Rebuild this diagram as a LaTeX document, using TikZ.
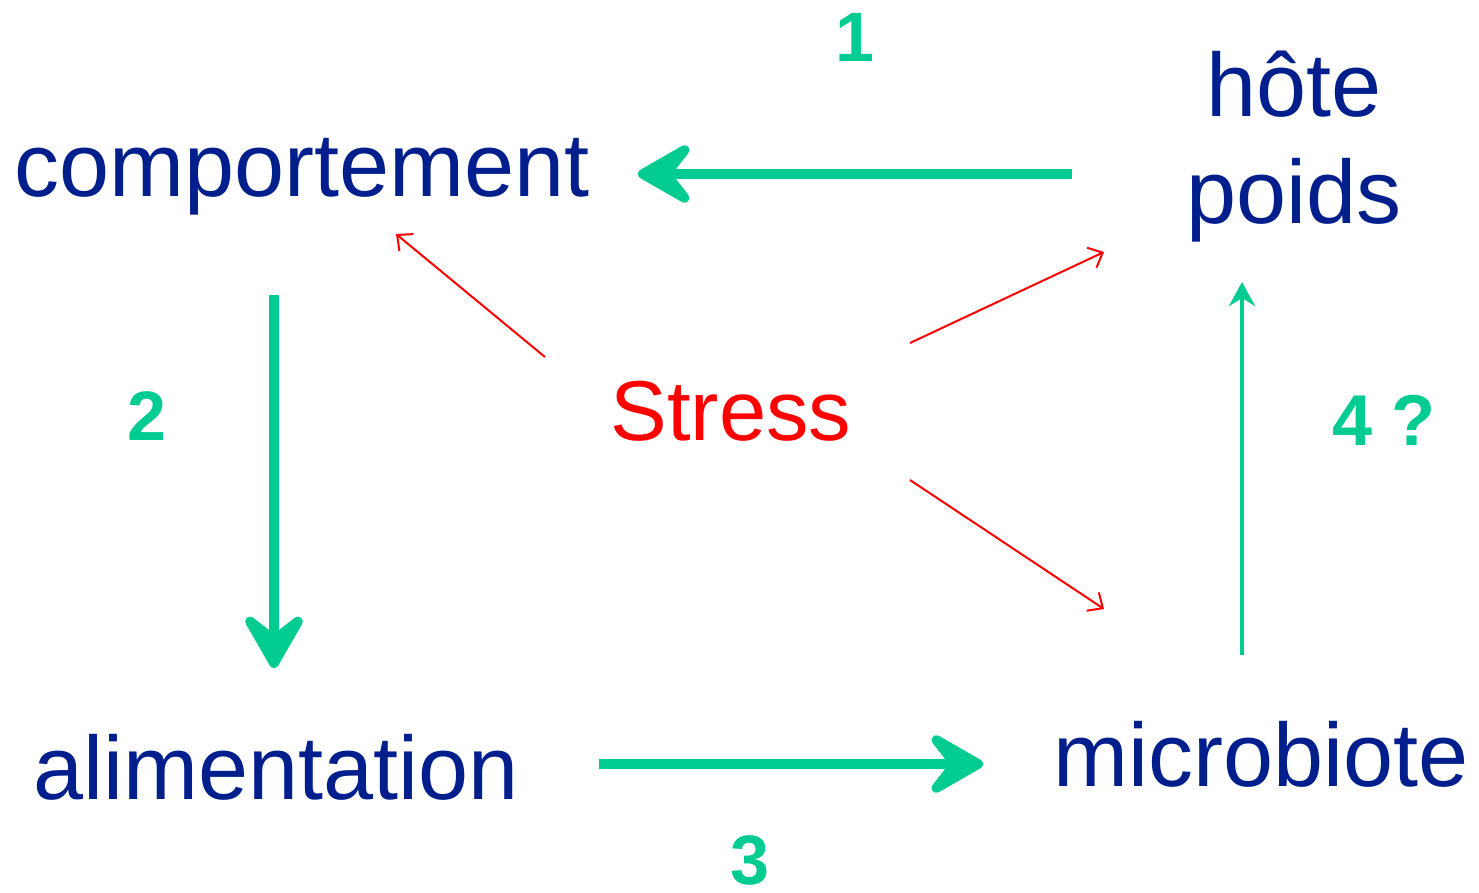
\documentclass[tikz,border=0pt]{standalone}
\usepackage{fontspec}
\setmainfont{Liberation Sans}
\usetikzlibrary{arrows.meta}
\definecolor{gr}{RGB}{0,204,146}
\definecolor{bl}{RGB}{0,30,140}
\definecolor{rd}{RGB}{255,0,0}
\tikzset{
  word/.style={text=bl, font=\fontsize{90}{90}\selectfont, inner sep=0pt, anchor=base},
  num/.style={text=gr, font=\fontsize{70}{70}\selectfont\bfseries, inner sep=0pt, anchor=base},
  bigarrow/.style={draw=gr, line width=10pt, -{Stealth[round, length=70pt, width=80pt, inset=31pt]}},
  thinarrow/.style={draw=gr, line width=4pt, -{Stealth[length=24pt, width=26pt, inset=8pt]}},
  redarrow/.style={draw=rd, line width=2pt, -{Straight Barb[length=12pt, width=22pt]}}
}
\begin{document}
\begin{tikzpicture}[x=1pt,y=-1pt]
\useasboundingbox (0,0) rectangle (1479,893);
\node[word] (comp) at (302,197) {comportement};
\node[word] (hote) at (1294,117) {hôte};
\node[word] (poids) at (1294,224) {poids};
\node[word] (alim) at (276,799) {alimentation};
\node[word] (micro) at (1261,786) {microbiote};
\node[word, text=rd, font=\fontsize{85}{85}\selectfont] (stress) at (731,440) {Stress};
\node[num] (n1) at (855,62) {1};
\node[num] (n2) at (147,440) {2};
\node[num] (n3) at (750,884) {3};
\node[num, font=\fontsize{72}{72}\selectfont\bfseries] (n4) at (1384,445) {4 ?};
% arrow end points
\coordinate (a1s) at (1072,174); \coordinate (a1e) at (638,174);
\coordinate (a2s) at (274,295);  \coordinate (a2e) at (274,668);
\coordinate (a3s) at (599,764);  \coordinate (a3e) at (983,764);
\coordinate (a4s) at (1242,655); \coordinate (a4e) at (1242,282);
\coordinate (r1s) at (545,357);  \coordinate (r1e) at (396,234);
\coordinate (r2s) at (910,343);  \coordinate (r2e) at (1104,252);
\coordinate (r3s) at (910,480);  \coordinate (r3e) at (1104,609);
\draw[bigarrow] (a1s) -- (a1e);
\draw[bigarrow] (a2s) -- (a2e);
\draw[bigarrow] (a3s) -- (a3e);
\draw[thinarrow] (a4s) -- (a4e);
\draw[redarrow] (r1s) -- (r1e);
\draw[redarrow] (r2s) -- (r2e);
\draw[redarrow] (r3s) -- (r3e);
\end{tikzpicture}
\end{document}
